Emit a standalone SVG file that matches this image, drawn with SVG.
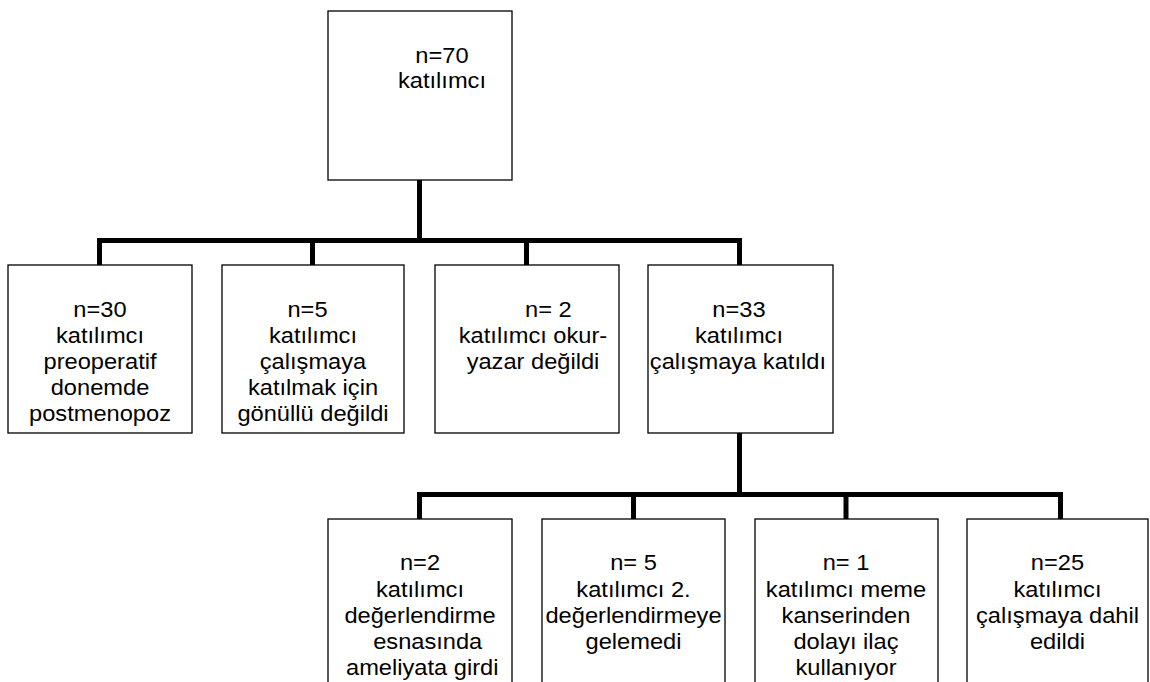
<svg xmlns="http://www.w3.org/2000/svg" width="1150" height="682" viewBox="0 0 1150 682">
<style>
.box{fill:#fff;stroke:#000;stroke-width:1.3}
.t{font-family:"Liberation Sans",Arial,sans-serif;font-size:21.5px;fill:#000;text-anchor:middle}
.c{fill:none;stroke:#000;stroke-width:5;stroke-linecap:butt}
</style>
<rect width="1150" height="682" fill="#fff"/>
<g id="connectors">
<path class="c" d="M419.5 180V240.5M97 240.5H742M99.5 240V265M312.5 240V265M526.5 240V265M739.5 240V265"/>
<path class="c" d="M739.5 433V494.5M417 494.5H1063M419.5 494V519M633.5 494V519M846 494V519M1060.5 494V519"/>
</g>
<g id="n70">
<rect class="box" x="328" y="11" width="184" height="169"/>
<g transform="translate(442 0) scale(1.1 1)"><text class="t"><tspan x="0" y="62.7">n=70</tspan><tspan x="0" y="88.3">katılımcı</tspan></text></g>
</g>
<g id="n30">
<rect class="box" x="8" y="265" width="184" height="168"/>
<g transform="translate(100 0) scale(1.1 1)"><text class="t"><tspan x="0" y="316.7">n=30</tspan><tspan x="0" y="342.9">katılımcı</tspan><tspan x="0" y="369.1">preoperatif</tspan><tspan x="0" y="395.3">donemde</tspan><tspan x="0" y="421.5">postmenopoz</tspan></text></g>
</g>
<g id="n5a">
<rect class="box" x="222" y="265" width="182" height="168"/>
<g transform="translate(313 0) scale(1.1 1)"><text class="t"><tspan x="-5" y="316.7">n=5</tspan><tspan x="0" y="342.9">katılımcı</tspan><tspan x="0" y="369.1">çalışmaya</tspan><tspan x="0" y="395.3">katılmak için</tspan><tspan x="0" y="421.5">gönüllü değildi</tspan></text></g>
</g>
<g id="n2a">
<rect class="box" x="435" y="265" width="184" height="168"/>
<g transform="translate(533 0) scale(1.1 1)"><text class="t"><tspan x="14" y="316.7">n= 2</tspan><tspan x="0" y="342.9">katılımcı okur-</tspan><tspan x="0" y="369.1">yazar değildi</tspan></text></g>
</g>
<g id="n33">
<rect class="box" x="648" y="265" width="185" height="168"/>
<g transform="translate(739 0) scale(1.1 1)"><text class="t"><tspan x="0" y="316.7">n=33</tspan><tspan x="0" y="342.9">katılımcı</tspan><tspan x="-1" y="369.1">çalışmaya katıldı</tspan></text></g>
</g>
<g id="n2b">
<rect class="box" x="328" y="519" width="184" height="200"/>
<g transform="translate(420 0) scale(1.1 1)"><text class="t"><tspan x="0" y="570.5">n=2</tspan><tspan x="0" y="596.6">katılımcı</tspan><tspan x="0" y="622.7">değerlendirme</tspan><tspan x="7" y="648.8">esnasında</tspan><tspan x="2" y="674.9">ameliyata girdi</tspan></text></g>
</g>
<g id="n5b">
<rect class="box" x="542" y="519" width="183" height="200"/>
<g transform="translate(633.5 0) scale(1.1 1)"><text class="t"><tspan x="0" y="570.5">n= 5</tspan><tspan x="0" y="596.6">katılımcı 2.</tspan><tspan x="0" y="622.7">değerlendirmeye</tspan><tspan x="0" y="648.8">gelemedi</tspan></text></g>
</g>
<g id="n1">
<rect class="box" x="755" y="519" width="183" height="200"/>
<g transform="translate(846 0) scale(1.1 1)"><text class="t"><tspan x="0" y="570.5">n= 1</tspan><tspan x="0" y="596.6">katılımcı meme</tspan><tspan x="0" y="622.7">kanserinden</tspan><tspan x="0" y="648.8">dolayı ilaç</tspan><tspan x="0" y="674.9">kullanıyor</tspan></text></g>
</g>
<g id="n25">
<rect class="box" x="967" y="519" width="181" height="200"/>
<g transform="translate(1057.5 0) scale(1.1 1)"><text class="t"><tspan x="0" y="570.5">n=25</tspan><tspan x="0" y="596.6">katılımcı</tspan><tspan x="0" y="622.7">çalışmaya dahil</tspan><tspan x="0" y="648.8">edildi</tspan></text></g>
</g>
</svg>
